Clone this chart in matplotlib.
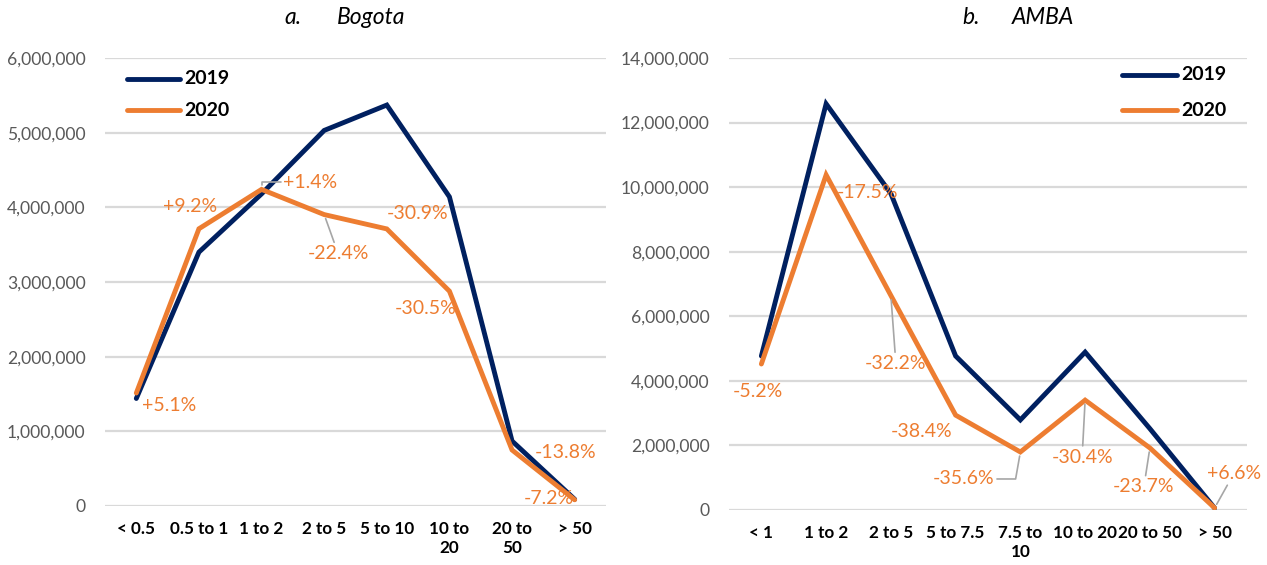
import matplotlib.pyplot as plt
from matplotlib.ticker import FuncFormatter

# Bogota: trips by distance band
bog_cats = ["< 0.5", "0.5 to 1", "1 to 2", "2 to 5", "5 to 10", "10 to\n20", "20 to\n50", "> 50"]
bog_2019 = [1440000, 3400000, 4180000, 5030000, 5370000, 4140000, 870000, 90000]
bog_2020 = [1513000, 3713000, 4240000, 3903000, 3711000, 2877000, 750000, 83500]
bog_labels = ["+5.1%", "+9.2%", "+1.4%", "-22.4%", "-30.9%", "-30.5%", "-13.8%", "-7.2%"]

# AMBA: trips by distance band
amba_cats = ["< 1", "1 to 2", "2 to 5", "5 to 7.5", "7.5 to\n10", "10 to 20", "20 to 50", "> 50"]
amba_2019 = [4770000, 12580000, 9800000, 4770000, 2790000, 4890000, 2520000, 60000]
amba_2020 = [4522000, 10379000, 6644000, 2938000, 1797000, 3403000, 1923000, 64000]
amba_labels = ["-5.2%", "-17.5%", "-32.2%", "-38.4%", "-35.6%", "-30.4%", "-23.7%", "+6.6%"]

NAVY = "#002060"
ORANGE = "#ED7D31"
GRID = "#D9D9D9"
LEADER = "#A6A6A6"
TICK = "#595959"
FONT = "Lato"

plt.rcParams["font.family"] = [FONT, "DejaVu Sans"]

fig = plt.figure(figsize=(12.67, 5.65), dpi=100)

W, H = 1267, 565
LW = 3.5


def axes_px(x0, x1, ytop, ybot):
    return fig.add_axes([x0 / W, 1 - ybot / H, (x1 - x0) / W, (ybot - ytop) / H])


def style(ax, cats, ymax, step):
    ax.set_xlim(-0.5, len(cats) - 0.5)
    ax.set_ylim(0, ymax)
    ax.set_yticks(range(0, ymax + 1, step))
    ax.yaxis.set_major_formatter(FuncFormatter(lambda v, p: f"{int(v):,}"))
    ax.set_xticks(range(len(cats)))
    ax.set_xticklabels(cats, fontweight="bold", fontsize=12.3, color="black", linespacing=1.2)
    for s in ax.spines.values():
        s.set_visible(False)
    ax.tick_params(axis="both", length=0)
    ax.tick_params(axis="y", labelsize=12.6, labelcolor=TICK, pad=14)
    ax.tick_params(axis="x", pad=11)
    ax.grid(axis="y", color=GRID, linewidth=1.6)
    ax.set_axisbelow(True)


def draw(ax, y19, y20):
    x = range(len(y19))
    ax.plot(x, y19, color=NAVY, lw=LW, solid_capstyle="round", solid_joinstyle="miter", zorder=3)
    ax.plot(x, y20, color=ORANGE, lw=LW, solid_capstyle="round", solid_joinstyle="miter", zorder=4)


def label(ax, i, y, txt, off, leader=None):
    kw = dict(xy=(i, y), xytext=off, textcoords="offset pixels", ha="center", va="center",
              color=ORANGE, fontsize=14, zorder=6, annotation_clip=False)
    if leader is not None:
        kw["arrowprops"] = dict(arrowstyle="-", color=LEADER, lw=1.2, shrinkA=0, shrinkB=3, **leader)
    ax.annotate(txt, **kw)


# ---- Bogota ----
ax1 = axes_px(105, 606, 58, 506)
style(ax1, bog_cats, 6000000, 1000000)
draw(ax1, bog_2019, bog_2020)
bog_off = [(33, -12), (-9, 22), (49, 7), (14, -39), (31, 15), (-24, -17), (53, -2), (-26, 1)]
bog_lead = [None, None, dict(connectionstyle="angle,angleA=0,angleB=90,rad=0", relpos=(0, 0.5)),
            dict(), None, None, None, None]
for i, (y, t, o, ld) in enumerate(zip(bog_2020, bog_labels, bog_off, bog_lead)):
    label(ax1, i, y, t, o, ld)

# legend drawn as short line samples with bold year labels
for yy, col, yr in [(79, NAVY, "2019"), (110, ORANGE, "2020")]:
    fig.add_artist(plt.Line2D([127 / W, 180 / W], [1 - yy / H] * 2, color=col, lw=LW,
                              solid_capstyle="round"))
    fig.text(184 / W, 1 - yy / H, yr, fontsize=14, fontweight="bold", va="center", ha="left")

fig.text(293 / W, 1 - 18 / H, "a.", fontsize=16.5, style="italic", ha="center", va="center")
fig.text(371 / W, 1 - 18 / H, "Bogota", fontsize=16.5, style="italic", ha="center", va="center")

# ---- AMBA ----
ax2 = axes_px(729, 1247, 58, 510)
style(ax2, amba_cats, 14000000, 2000000)
draw(ax2, amba_2019, amba_2020)
amba_off = [(-4, -27), (41, -18), (5, -68), (-34, -16), (-57, -27), (-3, -57), (-6, -39), (19, 34)]
amba_lead = [None, None, dict(), None,
             dict(connectionstyle="angle,angleA=0,angleB=80,rad=0", relpos=(1, 0.5)),
             dict(), dict(), dict()]
for i, (y, t, o, ld) in enumerate(zip(amba_2020, amba_labels, amba_off, amba_lead)):
    label(ax2, i, y, t, o, ld)

for yy, col, yr in [(75, NAVY, "2019"), (110, ORANGE, "2020")]:
    fig.add_artist(plt.Line2D([1122 / W, 1177 / W], [1 - yy / H] * 2, color=col, lw=LW,
                              solid_capstyle="round"))
    fig.text(1181 / W, 1 - yy / H, yr, fontsize=14, fontweight="bold", va="center", ha="left")

fig.text(971 / W, 1 - 18 / H, "b.", fontsize=16.5, style="italic", ha="center", va="center")
fig.text(1043 / W, 1 - 18 / H, "AMBA", fontsize=16.5, style="italic", ha="center", va="center")

fig.savefig("out.png", dpi=100, facecolor="white")
